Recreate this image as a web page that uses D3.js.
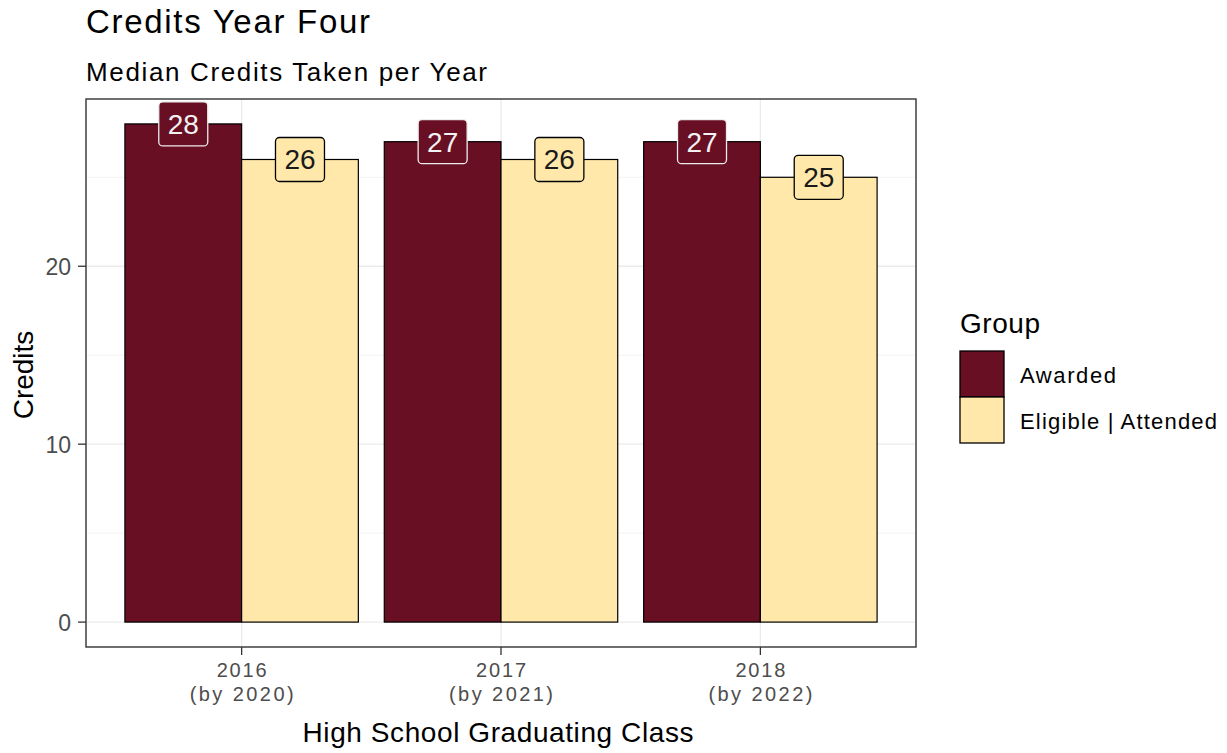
<!DOCTYPE html>
<html><head><meta charset="utf-8">
<script src="https://cdn.jsdelivr.net/npm/d3@7"></script>
<style>body{margin:0;background:#fff;} text{font-family:Arial,"Liberation Sans",sans-serif;}</style>
</head><body>
<svg id="c" width="1227" height="753"></svg>
<script>
const classes = ["2016", "2017", "2018"];
const classSub = ["(by 2020)", "(by 2021)", "(by 2022)"];
const groups = ["Awarded", "Eligible | Attended"];
const awarded = [28, 27, 27];
const eligible = [26, 26, 25];
const yTicks = [0, 10, 20];
const yMinor = [5, 15, 25];
const colors = ["#690F24", "#FFE8AA"];

const svg = d3.select("#c");
const P = {l: 86, r: 916, t: 99, b: 647};

// emulate ggplot discrete expansion: 0.6 units each side
const step = (P.r - P.l) / (classes.length - 1 + 1.2);
const x = d3.scalePoint().domain(classes).range([P.l + step * 0.6, P.r - step * 0.6]);
const xg = d3.scaleBand().domain(groups).range([-step * 0.45, step * 0.45]);
const ymax = 28 * 1.05, ymin = -28 * 0.05;
const y = d3.scaleLinear().domain([ymin, ymax]).range([P.b, P.t]);

function fitText(sel, w) {
  sel.each(function () {
    const n = this.getComputedTextLength();
    if (n < w) d3.select(this).attr("textLength", w).attr("lengthAdjust", "spacing");
  });
  return sel;
}

// grid
const g = svg.append("g");
g.selectAll(".minor").data(yMinor).join("line")
  .attr("x1", P.l).attr("x2", P.r).attr("y1", d => y(d)).attr("y2", d => y(d))
  .attr("stroke", "#F3F3F3").attr("stroke-width", 1);
g.selectAll(".major").data(yTicks).join("line")
  .attr("x1", P.l).attr("x2", P.r).attr("y1", d => y(d)).attr("y2", d => y(d))
  .attr("stroke", "#EBEBEB").attr("stroke-width", 1.3);
g.selectAll(".vmaj").data(classes).join("line")
  .attr("x1", d => x(d)).attr("x2", d => x(d)).attr("y1", P.t).attr("y2", P.b)
  .attr("stroke", "#EBEBEB").attr("stroke-width", 1.3);

// bars
const rows = [];
classes.forEach((c, i) => {
  rows.push({c, grp: groups[0], v: awarded[i], k: 0});
  rows.push({c, grp: groups[1], v: eligible[i], k: 1});
});
g.selectAll("rect.bar").data(rows).join("rect")
  .attr("x", d => x(d.c) + xg(d.grp))
  .attr("width", xg.bandwidth())
  .attr("y", d => y(d.v))
  .attr("height", d => y(0) - y(d.v))
  .attr("fill", d => colors[d.k])
  .attr("stroke", "#000").attr("stroke-width", 1.2);

// labels
const lab = g.selectAll("g.lab").data(rows).join("g")
  .attr("transform", d => `translate(${x(d.c) + xg(d.grp) + xg.bandwidth() / 2},${y(d.v)})`);
lab.append("rect")
  .attr("x", -24.5).attr("y", -22).attr("width", 49).attr("height", 44)
  .attr("rx", 4).attr("ry", 4)
  .attr("fill", d => colors[d.k])
  .attr("stroke", d => d.k === 0 ? "#ECECEC" : "#000").attr("stroke-width", 1.3);
lab.append("text").text(d => d.v)
  .attr("text-anchor", "middle").attr("y", 10)
  .attr("font-size", 28)
  .attr("fill", d => d.k === 0 ? "#F2F2F2" : "#1A1A1A");

// panel border
svg.append("rect").attr("x", P.l).attr("y", P.t).attr("width", P.r - P.l).attr("height", P.b - P.t)
  .attr("fill", "none").attr("stroke", "#333").attr("stroke-width", 1.4);

// y axis
const ya = svg.append("g");
ya.selectAll("line").data(yTicks).join("line")
  .attr("x1", P.l - 8).attr("x2", P.l).attr("y1", d => y(d)).attr("y2", d => y(d))
  .attr("stroke", "#333").attr("stroke-width", 1.3);
ya.selectAll("text").data(yTicks).join("text").text(d => d)
  .attr("x", P.l - 15).attr("y", d => y(d) + 8.5)
  .attr("text-anchor", "end").attr("font-size", 23).attr("fill", "#4D4D4D");

// x axis
const xa = svg.append("g");
xa.selectAll("line").data(classes).join("line")
  .attr("x1", d => x(d)).attr("x2", d => x(d)).attr("y1", P.b).attr("y2", P.b + 8)
  .attr("stroke", "#333").attr("stroke-width", 1.3);
fitText(xa.selectAll("text.a").data(classes).join("text").attr("class", "a").text(d => d)
  .attr("x", d => x(d)).attr("y", 677)
  .attr("text-anchor", "middle").attr("font-size", 20).attr("fill", "#4D4D4D"), 50);
fitText(xa.selectAll("text.b").data(classSub).join("text").attr("class", "b").text(d => d)
  .attr("x", (d, i) => x(classes[i])).attr("y", 701)
  .attr("text-anchor", "middle").attr("font-size", 20).attr("fill", "#4D4D4D"), 104);

// titles
fitText(svg.append("text").text("Credits Year Four").attr("x", 86).attr("y", 33)
  .attr("font-size", 33).attr("fill", "#000"), 284);
fitText(svg.append("text").text("Median Credits Taken per Year").attr("x", 86).attr("y", 81)
  .attr("font-size", 26).attr("fill", "#000"), 401);
fitText(svg.append("text").text("High School Graduating Class").attr("x", (P.l + P.r) / 2 - 3).attr("y", 742)
  .attr("text-anchor", "middle").attr("font-size", 28).attr("fill", "#000"), 391);
svg.append("text").text("Credits").attr("transform", `translate(33,${(P.t + P.b) / 2 + 2}) rotate(-90)`)
  .attr("text-anchor", "middle").attr("font-size", 28).attr("fill", "#000");

// legend
const lg = svg.append("g");
fitText(lg.append("text").text("Group").attr("x", 960).attr("y", 333).attr("font-size", 28).attr("fill", "#000"), 80);
groups.forEach((gr, i) => {
  lg.append("rect").attr("x", 960).attr("y", 351 + i * 46).attr("width", 44).attr("height", 46)
    .attr("fill", colors[i]).attr("stroke", "#000").attr("stroke-width", 1.3);
  fitText(lg.append("text").text(gr).attr("x", 1020).attr("y", 383 + i * 46)
    .attr("font-size", 22).attr("fill", "#000"), i === 0 ? 96 : 197);
});
</script>
</body></html>
